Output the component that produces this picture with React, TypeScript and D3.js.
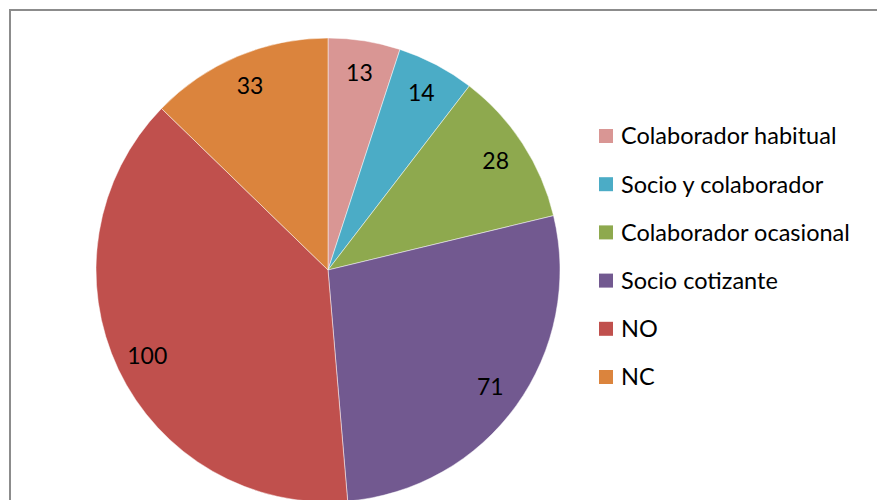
import React, { useEffect, useRef } from 'react';
import * as d3 from 'd3';

const categories = ['Colaborador habitual', 'Socio y colaborador', 'Colaborador ocasional', 'Socio cotizante', 'NO', 'NC'];
const values = [13, 14, 28, 71, 100, 33];
const colors = ['#D99694', '#4BACC6', '#8EA94E', '#725990', '#C0504D', '#DB843D'];

const W = 877;
const H = 500;

const App = () => {
  const ref = useRef<SVGSVGElement>(null);

  useEffect(() => {
    const svg = d3.select(ref.current);
    svg.selectAll('*').remove();

    // chart frame, runs off the right and bottom edges
    svg.append('rect')
      .attr('x', 10).attr('y', 10)
      .attr('width', W + 20).attr('height', H + 20)
      .attr('fill', '#fff')
      .attr('stroke', '#8c8c8c')
      .attr('stroke-width', 2);

    const cx = 328, cy = 270, r = 232;
    const data = categories.map((c, i) => ({ name: c, value: values[i], color: colors[i] }));

    const pie = d3.pie<any>().sort(null).value(d => d.value);
    const arcs = pie(data);
    const arc = d3.arc<any>().innerRadius(0).outerRadius(r);
    const labelArc = d3.arc<any>().innerRadius(200).outerRadius(200);

    const g = svg.append('g').attr('transform', `translate(${cx},${cy})`);

    g.selectAll('path.slice')
      .data(arcs)
      .enter().append('path')
      .attr('class', 'slice')
      .attr('d', arc)
      .attr('fill', d => d.data.color)
      .attr('stroke', '#fff')
      .attr('stroke-opacity', 0.6)
      .attr('stroke-width', 0.8);

    g.selectAll('text.lbl')
      .data(arcs)
      .enter().append('text')
      .attr('class', 'lbl')
      .attr('transform', d => `translate(${labelArc.centroid(d)})`)
      .attr('text-anchor', 'middle')
      .attr('dy', '0.36em')
      .style('font-family', 'Lato, sans-serif')
      .style('font-size', '23px')
      .attr('fill', '#000')
      .text(d => d.data.value);

    // Legend
    const legend = svg.append('g');
    const rows = legend.selectAll('g.row')
      .data(data)
      .enter().append('g')
      .attr('class', 'row')
      .attr('transform', (d, i) => `translate(599,${136 + i * 48.2})`);

    rows.append('rect')
      .attr('x', 0).attr('y', -7)
      .attr('width', 14).attr('height', 14)
      .attr('fill', d => d.color);

    rows.append('text')
      .attr('x', 22)
      .attr('dy', '0.36em')
      .style('font-family', 'Lato, sans-serif')
      .style('font-size', '23.5px')
      .attr('fill', '#000')
      .text(d => d.name);
  }, []);

  return (
    <svg ref={ref} width={W} height={H}
      style={{ position: 'absolute', left: 0, top: 0, background: '#fff' }} />
  );
};

export default App;
